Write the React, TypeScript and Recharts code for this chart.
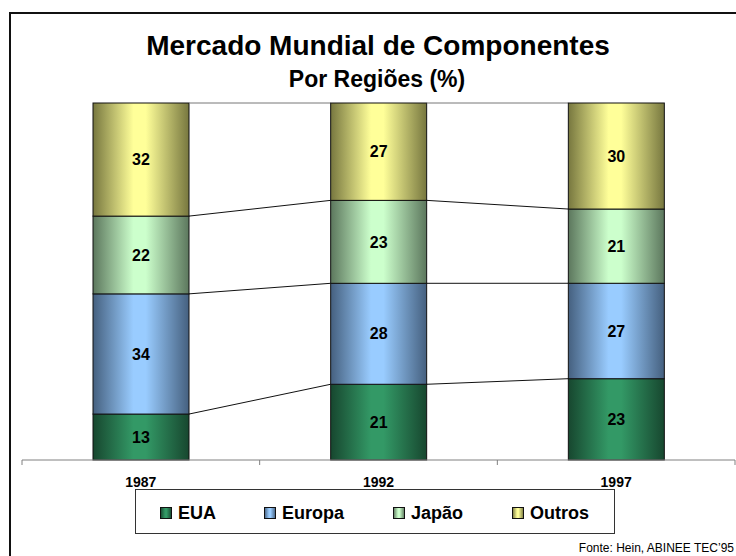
import React from "react";
import { BarChart, Bar, XAxis, YAxis, LabelList } from "recharts";

// data (% share of the world component market)
const years = ["1987", "1992", "1997"];
const eua = [13, 21, 23];
const europa = [34, 28, 27];
const japao = [22, 23, 21];
const outros = [32, 27, 30];

const series = [
  { key: "eua", name: "EUA", values: eua, light: "#339966", dark: "#17472f" },
  { key: "europa", name: "Europa", values: europa, light: "#99ccff", dark: "#45607f" },
  { key: "japao", name: "Japão", values: japao, light: "#ccffcc", dark: "#5c775d" },
  { key: "outros", name: "Outros", values: outros, light: "#ffff99", dark: "#77773f" },
];

const data = years.map((year, i) => ({
  year,
  eua: eua[i],
  europa: europa[i],
  japao: japao[i],
  outros: outros[i],
}));

const W = 736;
const H = 556;
const MARGIN = { top: 103, right: 1, bottom: 66, left: 22 };
const BAND = (W - MARGIN.left - MARGIN.right) / years.length;
const FONT = "'Liberation Sans', Arial, sans-serif";

// cumulative share of a column up to (and including) series s
const shareUpTo = (s: number, i: number) => {
  const total = series.reduce((a, r) => a + r.values[i], 0);
  let cum = 0;
  for (let k = 0; k <= s; k++) cum += series[k].values[i];
  return cum / total;
};

// gradient segment + the series line towards the next column
const makeShape = (s: number) => (props: any) => {
  const { x, y, width, height, index } = props;
  const hi = shareUpTo(s, index);
  const lo = s > 0 ? shareUpTo(s - 1, index) : 0;
  const ppu = height / (hi - lo);
  const bottom = y + height + lo * ppu;
  const hasNext = index < years.length - 1;
  return (
    <g>
      <rect
        x={x}
        y={y}
        width={width}
        height={height}
        fill={`url(#grad-${series[s].key})`}
        stroke="#111"
        strokeWidth={1}
      />
      {hasNext && (
        <line
          x1={x + width}
          y1={y}
          x2={x + BAND}
          y2={bottom - shareUpTo(s, index + 1) * ppu}
          stroke={s === series.length - 1 ? "#777" : "#111"}
          strokeWidth={1}
        />
      )}
    </g>
  );
};

const YearTick = (props: any) => {
  const { x, y, payload, index } = props;
  return (
    <g>
      <line x1={x - BAND / 2} y1={y} x2={x - BAND / 2} y2={y + 5} stroke="#808080" />
      {index === years.length - 1 && (
        <line x1={x + BAND / 2} y1={y} x2={x + BAND / 2} y2={y + 5} stroke="#808080" />
      )}
      <text
        x={x}
        y={y + 27}
        textAnchor="middle"
        fontFamily={FONT}
        fontWeight="bold"
        fontSize={14}
        fill="#000"
      >
        {payload.value}
      </text>
    </g>
  );
};

const legendX = [160, 264, 393, 512];

export default function App() {
  return (
    <div
      style={{
        position: "absolute",
        left: 0,
        top: 0,
        width: W,
        height: H,
        overflow: "hidden",
        background: "#fff",
      }}
    >
      <BarChart width={W} height={H} data={data} margin={MARGIN} stackOffset="expand" barSize={96}>
        <XAxis
          dataKey="year"
          height={30}
          axisLine={{ stroke: "#808080" }}
          tickLine={false}
          tickSize={0}
          tickMargin={0}
          tick={<YearTick />}
          interval={0}
        />
        <YAxis hide domain={[0, 1]} />
        {series.map((s, si) => (
          <Bar
            key={s.key}
            dataKey={s.key}
            name={s.name}
            stackId="a"
            shape={makeShape(si)}
            isAnimationActive={false}
          >
            <LabelList
              dataKey={s.key}
              position="center"
              fill="#000"
              fontSize={16}
              fontWeight="bold"
              fontFamily={FONT}
            />
          </Bar>
        ))}
      </BarChart>

      <svg
        width={W}
        height={H}
        style={{ position: "absolute", left: 0, top: 0, pointerEvents: "none" }}
      >
        <defs>
          {series.map((s) => (
            <linearGradient key={s.key} id={`grad-${s.key}`} x1="0" y1="0" x2="1" y2="0">
              <stop offset="0" stopColor={s.dark} />
              <stop offset="0.42" stopColor={s.light} />
              <stop offset="0.55" stopColor={s.light} />
              <stop offset="1" stopColor={s.dark} />
            </linearGradient>
          ))}
        </defs>

        {/* frame */}
        <rect x={10} y={13} width={800} height={600} fill="none" stroke="#111" strokeWidth={2} />

        {/* titles */}
        <text x={378} y={55} textAnchor="middle" fontFamily={FONT} fontWeight="bold" fontSize={28}>
          Mercado Mundial de Componentes
        </text>
        <text x={377} y={87} textAnchor="middle" fontFamily={FONT} fontWeight="bold" fontSize={23}>
          Por Regiões (%)
        </text>

        {/* legend */}
        <rect x={135.5} y={489.5} width={479} height={44} fill="#fff" stroke="#333" strokeWidth={1} />
        {series.map((s, i) => (
          <g key={s.key}>
            <rect
              x={legendX[i] + 0.5}
              y={507.5}
              width={11}
              height={11}
              fill={`url(#grad-${s.key})`}
              stroke="#111"
              strokeWidth={1}
            />
            <text x={legendX[i] + 18} y={519} fontFamily={FONT} fontWeight="bold" fontSize={18}>
              {s.name}
            </text>
          </g>
        ))}

        {/* source */}
        <text x={734} y={552} textAnchor="end" fontFamily={FONT} fontSize={12}>
          Fonte: Hein, ABINEE TEC’95
        </text>
      </svg>
    </div>
  );
}
